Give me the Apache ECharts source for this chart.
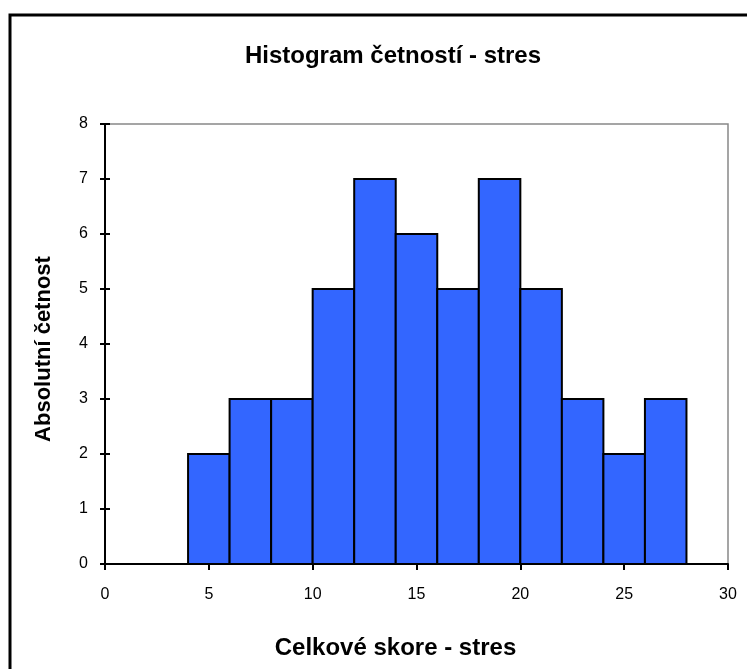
<!DOCTYPE html>
<html>
<head>
<meta charset="utf-8">
<script src="https://cdn.jsdelivr.net/npm/echarts@6/dist/echarts.min.js"></script>
<style>
  html, body { margin: 0; padding: 0; background: #fff; }
  #main { width: 747px; height: 669px; }
</style>
</head>
<body>
<div id="main"></div>
<script>
// třídy po 2 bodech: začátek, konec, četnost
var binStart = [0, 2, 4, 6, 8, 10, 12, 14, 16, 18, 20, 22, 24, 26, 28];
var binEnd = [2, 4, 6, 8, 10, 12, 14, 16, 18, 20, 22, 24, 26, 28, 30];
var counts = [0, 0, 2, 3, 3, 5, 7, 6, 5, 7, 5, 3, 2, 3, 0];

var myChart = echarts.init(document.getElementById('main'));

var data = [];
for (var i = 0; i < counts.length; i++) {
    data.push([binStart[i], binEnd[i], counts[i]]);
}

var option = {
    animation: false,
    backgroundColor: '#fff',
    textStyle: { fontFamily: 'Liberation Sans, Arial, sans-serif' },
    title: {
        text: 'Histogram četností - stres',
        left: 388,
        textAlign: 'center',
        top: 39,
        textStyle: { fontSize: 24, fontWeight: 'bold', color: '#000' }
    },
    graphic: [{
        type: 'rect',
        shape: { x: 10, y: 15, width: 800, height: 700 },
        style: { fill: null, stroke: '#000', lineWidth: 3 },
        silent: true
    }],
    grid: {
        left: 105,
        right: 19,
        top: 124,
        bottom: 105,
        show: true,
        borderColor: '#888',
        borderWidth: 1.5,
        backgroundColor: 'transparent'
    },
    xAxis: {
        type: 'value',
        min: 0,
        max: 30,
        interval: 5,
        name: 'Celkové skore - stres',
        nameLocation: 'middle',
        nameGap: 72,
        nameTextStyle: { fontSize: 24, fontWeight: 'bold', color: '#000', padding: [0, 42, 0, 0] },
        axisLine: { show: true, lineStyle: { color: '#000', width: 2 } },
        axisTick: { show: true, length: 6, lineStyle: { color: '#000', width: 2 } },
        axisLabel: { fontSize: 16, color: '#000', margin: 23 },
        splitLine: { show: false }
    },
    yAxis: [{
        type: 'value',
        min: 0,
        max: 8,
        interval: 1,
        name: 'Absolutní četnost',
        nameLocation: 'middle',
        nameGap: 50,
        nameTextStyle: { fontSize: 22, fontWeight: 'bold', color: '#000', padding: [0, 10, 0, 0] },
        axisLine: { show: true, lineStyle: { color: '#000', width: 2 } },
        axisTick: { show: true, length: 5, lineStyle: { color: '#000', width: 2 } },
        axisLabel: { fontSize: 16, color: '#000', margin: 17 },
        splitLine: { show: false }
    }, {
        // jen vnitřní zářezy, aby se křížily s osou
        type: 'value',
        position: 'left',
        min: 0,
        max: 8,
        interval: 1,
        axisLine: { show: false },
        axisTick: { show: true, inside: true, length: 5, lineStyle: { color: '#000', width: 2 } },
        axisLabel: { show: false },
        splitLine: { show: false }
    }],
    series: [{
        type: 'custom',
        renderItem: function (params, api) {
            var p0 = api.coord([api.value(0), api.value(2)]);
            var p1 = api.coord([api.value(1), 0]);
            return {
                type: 'rect',
                shape: { x: p0[0], y: p0[1], width: p1[0] - p0[0], height: p1[1] - p0[1] },
                style: { fill: '#3366FF', stroke: '#000', lineWidth: 2 }
            };
        },
        encode: { x: [0, 1], y: 2 },
        data: data
    }]
};

myChart.setOption(option);
</script>
</body>
</html>
